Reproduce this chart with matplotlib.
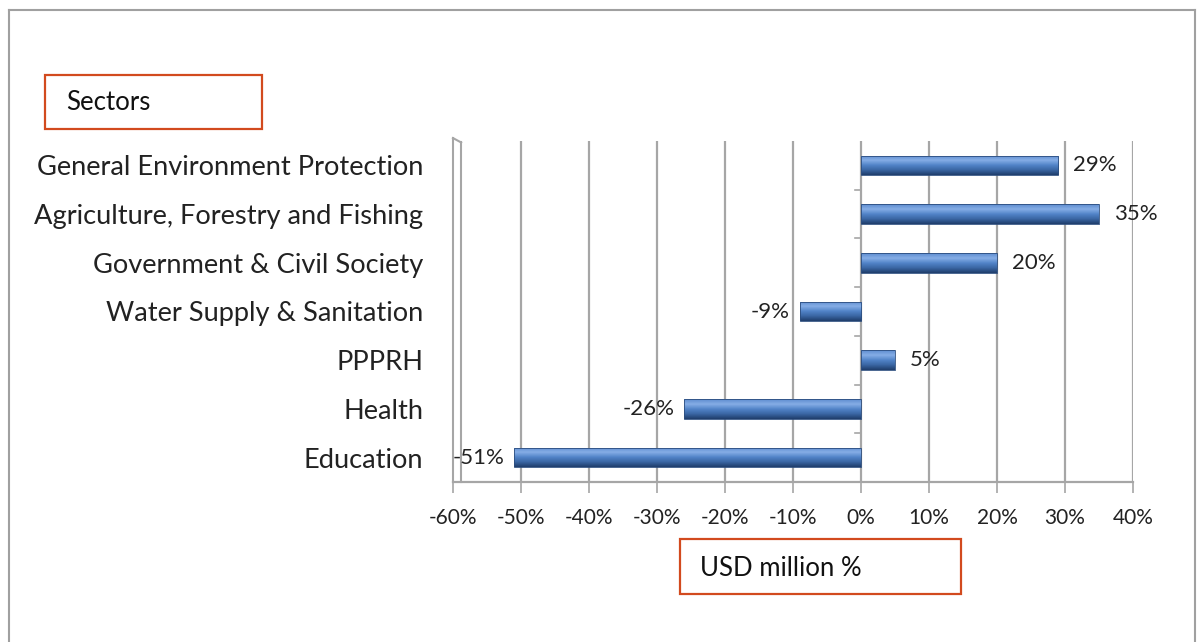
import numpy as np
import matplotlib
matplotlib.use("Agg")
import matplotlib.pyplot as plt
from matplotlib.patches import Rectangle
from matplotlib.lines import Line2D

plt.rcParams['font.family'] = ['Lato', 'DejaVu Sans']

# sector changes, bottom to top as drawn
sectors = ["Education", "Health", "PPPRH", "Water Supply & Sanitation",
           "Government & Civil Society", "Agriculture, Forestry and Fishing",
           "General Environment Protection"]
change_pct = [-51, -26, 5, -9, 20, 35, 29]
xticks = [-60, -50, -40, -30, -20, -10, 0, 10, 20, 30, 40]

W, H = 1198, 642
fig = plt.figure(figsize=(W / 100, H / 100), dpi=100)

def fx(px): return px / W
def fy(py): return 1 - py / H

GRID = "#a6a6a6"
BOX = "#d24a1e"

# outer frame (open at the bottom)
for xs, ys in [([9, 9], [10, H]), ([9, 1195], [10, 10]), ([1195, 1195], [10, H])]:
    fig.add_artist(Line2D([fx(x) for x in xs], [fy(y) for y in ys], color="#a0a0a0", lw=1.5))

ax = fig.add_axes([fx(453), fy(482), fx(1133) - fx(453), fy(141) - fy(482)])
ax.set_xlim(-60, 40)
ax.set_ylim(-0.5, len(sectors) - 0.5)
for s in ax.spines.values():
    s.set_visible(False)

# vertical gridlines
for t in xticks[1:]:
    ax.axvline(t, color=GRID, lw=1.6, zorder=1)
# left wall of the 3d box
ax.plot([-60, -60], [-0.5, 6.56], color=GRID, lw=1.5, clip_on=False, zorder=1)
ax.plot([-58.8, -58.8], [-0.5, 6.47], color=GRID, lw=1.5, clip_on=False, zorder=1)
ax.plot([-60, -58.8], [6.56, 6.47], color=GRID, lw=1.5, clip_on=False, zorder=1)
# floor
ax.plot([-60, 40], [-0.5, -0.5], color=GRID, lw=1.6, clip_on=False, zorder=1)

ax.set_xticks(xticks)
ax.set_xticklabels([f"{t}%" for t in xticks], fontsize=15, color="#222222")
ax.tick_params(axis="x", length=8, width=1.2, color=GRID, pad=11)

y = np.arange(len(sectors))
ax.set_yticks(y)
ax.set_yticklabels(sectors, fontsize=19.6, color="#222222")
ax.tick_params(axis="y", length=0, pad=21.5)

# small ticks on the zero line between categories
for b in np.arange(0.5, len(sectors) - 1, 1.0):
    ax.plot([-0.9, 0], [b, b], color=GRID, lw=1.2, zorder=2)

# shaded bars
bh = 0.4
grad = np.linspace(0, 1, 64).reshape(-1, 1)
cmap = matplotlib.colors.LinearSegmentedColormap.from_list(
    "bar", ["#1f3d6b", "#3a66a3", "#5284c8", "#86aee6", "#5d8ccf"])
bars = ax.barh(y, change_pct, height=bh, color="#4f81bd", zorder=3)
for r in bars:
    x0, y0 = r.get_x(), r.get_y()
    w, h = r.get_width(), r.get_height()
    im = ax.imshow(grad, cmap=cmap, aspect="auto", origin="lower",
                   extent=[x0, x0 + w, y0, y0 + h], zorder=4)
    im.set_clip_path(r)
    ax.add_patch(Rectangle((x0, y0), w, h, fill=False, ec="#2c4d7e", lw=0.6, zorder=5))
ax.set_xlim(-60, 40)
ax.set_ylim(-0.5, len(sectors) - 0.5)

for yi, v in zip(y, change_pct):
    off = 15 if v >= 0 else -10
    ax.annotate(f"{v}%", (v, yi), xytext=(off, 0), textcoords="offset pixels",
                ha="left" if v >= 0 else "right", va="center", fontsize=16,
                color="#222222", zorder=6)

# label boxes
fig.add_artist(Rectangle((fx(45), fy(129)), fx(262) - fx(45), fy(75) - fy(129),
                         fill=False, ec=BOX, lw=1.6))
fig.text(fx(66), fy(103), "Sectors", fontsize=18.5, va="center", ha="left", color="#111111")
fig.add_artist(Rectangle((fx(680), fy(594)), fx(961) - fx(680), fy(539) - fy(594),
                         fill=False, ec=BOX, lw=1.6))
fig.text(fx(700), fy(568), "USD million %", fontsize=18.5, va="center", ha="left", color="#111111")

fig.savefig("out.png", dpi=100, facecolor="white")
